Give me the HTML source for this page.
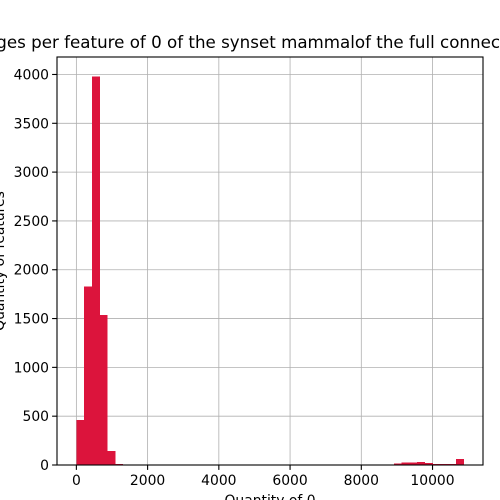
<!DOCTYPE html>
<html><head><meta charset="utf-8"><style>body{margin:0;background:#fff}svg{display:block;font-family:"DejaVu Sans","Liberation Sans",sans-serif}</style></head>
<body>
<svg width="500" height="500" id="chart">
<rect width="500" height="500" fill="#fff"/>
<text x="223" y="48" text-anchor="middle" font-size="16.7">Number of images per feature of 0 of the synset mammalof the full connected layer</text>
<text transform="translate(4,261) rotate(-90)" text-anchor="middle" font-size="13.9">Quantity of features</text>
<text x="270" y="505" text-anchor="middle" font-size="13.9">Quantity of 0</text>
<g id="grid"></g><g id="bars" shape-rendering="crispEdges"></g><g id="axes"></g>
</svg>
<script>
const binCounts=[460,1830,3980,1535,145,10,0,0,0,0,0,0,0,0,0,0,0,0,0,0,0,0,0,0,0,0,0,0,0,0,0,0,0,0,0,0,0,0,0,0,0,15,25,25,30,20,10,10,10,60];
const binMin=0, binMax=10873;
const xTicks=[0,2000,4000,6000,8000,10000];
const yTicks=[0,500,1000,1500,2000,2500,3000,3500,4000];
const NS="http://www.w3.org/2000/svg";
const L=57,R=483,T=57,B=465;
const xmin=-544,xmax=11417,ymax=4179;
const xs=v=>L+(v-xmin)/(xmax-xmin)*(R-L);
const ys=v=>B-v/ymax*(B-T);
function mk(tag,a,p){const e=document.createElementNS(NS,tag);for(const k in a)e.setAttribute(k,a[k]);p.appendChild(e);return e;}
const grid=document.getElementById('grid'),bars=document.getElementById('bars'),axes=document.getElementById('axes');
xTicks.forEach(t=>{const x=xs(t);
 const g=mk('line',{x1:x,x2:x,y1:T,y2:B,stroke:'#b0b0b0','stroke-width':0.8},grid);
 
 
 mk('line',{x1:x,x2:x,y1:B,y2:B+4.9,stroke:'#000','stroke-width':1.1},axes);
 const tx=mk('text',{x:x,y:B+20,'text-anchor':'middle','font-size':13.9},axes);tx.textContent=t;
 
 });
yTicks.forEach(t=>{const y=ys(t);
 const g=mk('line',{x1:L,x2:R,y1:y,y2:y,stroke:'#b0b0b0','stroke-width':0.8},grid);
 
 
 mk('line',{x1:L-4.9,x2:L,y1:y,y2:y,stroke:'#000','stroke-width':1.1},axes);
 const tx=mk('text',{x:L-8,y:y+5,'text-anchor':'end','font-size':13.9},axes);tx.textContent=t;
 
 });
const w=(binMax-binMin)/binCounts.length;
binCounts.forEach((c,i)=>{if(c<=0)return;const x0=xs(binMin+i*w),x1=xs(binMin+(i+1)*w);
 const r=mk('rect',{x:x0,y:ys(c),width:x1-x0+0.3,height:B-ys(c),fill:'#dc143c'},bars);
 
 });
const f=mk('rect',{x:L,y:T,width:R-L,height:B-T,fill:'none',stroke:'#000','stroke-width':1.1},axes);


</script>
</body></html>
